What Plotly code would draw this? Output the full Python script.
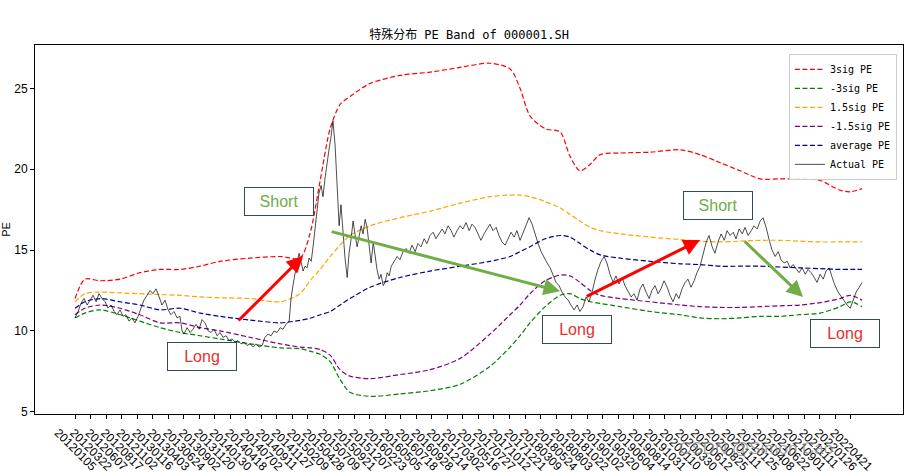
import plotly.graph_objects as go

# ---------------- data ----------------
tick_labels = [
    "20120105", "20120322", "20120607", "20120817", "20121102", "20130116", "20130403",
    "20130624", "20130902", "20131120", "20140130", "20140418", "20140702", "20140911",
    "20141127", "20150209", "20150428", "20150709", "20150921", "20151207", "20160223",
    "20160505", "20160718", "20160928", "20161214", "20170302", "20170516", "20170727",
    "20171012", "20171221", "20180309", "20180524", "20180803", "20181022", "20190102",
    "20190320", "20190604", "20190814", "20191031", "20200110", "20200330", "20200612",
    "20200825", "20201111", "20210125", "20210408", "20210622", "20210901", "20211111",
    "20220126", "20220421",
]
tick_step = 50  # one label every 50 trading days

# trading-day index of each band sample
band_idx = [0, 32, 81, 145, 209, 274, 338, 403, 467, 564, 661, 725, 757, 790, 822, 854,
            886, 951, 1047, 1144, 1241, 1337, 1402, 1434, 1466, 1515, 1563, 1595, 1627,
            1660, 1692, 1756, 1853, 1950, 2014, 2079, 2143, 2208, 2272, 2336, 2401, 2465,
            2498, 2536]
sig3_up = [12.0, 13.2, 13.1, 13.2, 13.6, 13.8, 13.8, 14.0, 14.3, 14.5, 14.6, 14.5, 16.0,
           19.3, 22.5, 24.0, 24.5, 25.3, 25.8, 26.0, 26.3, 26.55, 26.2, 25.0, 23.3, 22.5,
           22.3, 20.8, 19.9, 20.3, 20.9, 21.0, 21.05, 21.2, 20.9, 20.4, 19.9, 19.4, 19.4,
           19.4, 19.3, 18.7, 18.6, 18.8]
sig3_dn = [10.8, 11.1, 11.3, 11.0, 10.6, 10.2, 9.9, 9.7, 9.5, 9.2, 8.95, 8.9, 8.75, 8.55,
           8.1, 7.0, 6.2, 5.95, 6.1, 6.3, 6.7, 7.8, 9.0, 9.7, 10.5, 11.5, 12.2, 12.3, 12.0,
           11.8, 11.7, 11.5, 11.2, 11.0, 10.8, 10.75, 10.8, 10.9, 10.9, 11.0, 11.1, 11.5,
           11.8, 11.5]
sig15_up = [11.8, 12.3, 12.4, 12.35, 12.3, 12.25, 12.2, 12.1, 12.05, 12.0, 11.8, 12.3,
            13.1, 13.8, 14.6, 15.3, 15.9, 16.5, 17.0, 17.4, 17.9, 18.3, 18.4, 18.4, 18.3,
            18.0, 17.6, 17.2, 16.8, 16.4, 16.2, 16.0, 15.8, 15.65, 15.55, 15.5, 15.55,
            15.6, 15.6, 15.55, 15.5, 15.5, 15.5, 15.5]
sig15_dn = [11.0, 11.4, 11.6, 11.4, 11.0, 10.5, 10.5, 10.2, 10.0, 9.6, 9.2, 9.0, 8.95,
            8.85, 8.5, 7.6, 7.2, 7.05, 7.3, 7.6, 8.3, 9.8, 11.0, 11.6, 12.3, 13.1, 13.45,
            13.4, 13.0, 12.5, 12.2, 12.0, 11.8, 11.6, 11.5, 11.45, 11.45, 11.5, 11.55,
            11.6, 11.75, 12.0, 12.2, 11.9]
avg_pe = [11.4, 11.8, 12.0, 11.8, 11.6, 11.3, 11.4, 11.1, 10.9, 10.67, 10.5, 10.65, 10.78,
          11.0, 11.2, 11.6, 12.0, 12.7, 13.3, 13.7, 14.0, 14.3, 14.6, 14.9, 15.2, 15.7,
          15.9, 15.8, 15.4, 15.0, 14.7, 14.5, 14.3, 14.15, 14.1, 14.0, 14.0, 14.0, 13.95,
          13.9, 13.85, 13.8, 13.8, 13.8]

pe_idx = [
    0, 10, 19, 29, 39, 48, 58, 68, 77, 87,
    97, 106, 116, 126, 135, 145, 155, 164, 174, 184,
    193, 203, 213, 222, 232, 242, 251, 261, 271, 280,
    290, 300, 309, 319, 329, 338, 345, 351, 361, 371,
    380, 390, 400, 409, 419, 429, 438, 448, 458, 467,
    477, 487, 496, 506, 516, 525, 535, 545, 554, 564,
    574, 583, 593, 603, 612, 622, 632, 641, 651, 661,
    670, 680, 690, 696, 703, 709, 715, 722, 728, 735,
    741, 748, 754, 761, 767, 773, 780, 786, 793, 799,
    806, 812, 819, 825, 831, 838, 844, 851, 857, 864,
    870, 877, 883, 889, 896, 902, 909, 915, 922, 928,
    935, 941, 948, 954, 961, 967, 973, 980, 986, 993,
    999, 1006, 1012, 1019, 1028, 1038, 1047, 1057, 1067, 1076,
    1086, 1096, 1105, 1115, 1125, 1134, 1144, 1154, 1163, 1173,
    1183, 1192, 1202, 1212, 1221, 1231, 1241, 1250, 1260, 1270,
    1279, 1289, 1299, 1308, 1318, 1328, 1337, 1347, 1357, 1366,
    1376, 1386, 1395, 1405, 1415, 1424, 1434, 1444, 1453, 1463,
    1473, 1482, 1492, 1502, 1512, 1521, 1531, 1541, 1550, 1560,
    1569, 1579, 1589, 1598, 1608, 1618, 1627, 1637, 1647, 1656,
    1666, 1676, 1685, 1695, 1705, 1714, 1724, 1734, 1743, 1753,
    1763, 1772, 1782, 1792, 1801, 1811, 1821, 1830, 1840, 1850,
    1859, 1869, 1879, 1888, 1898, 1908, 1917, 1927, 1937, 1946,
    1956, 1966, 1975, 1985, 1995, 2004, 2014, 2024, 2034, 2043,
    2053, 2062, 2072, 2082, 2092, 2101, 2111, 2121, 2130, 2140,
    2150, 2159, 2169, 2179, 2188, 2198, 2208, 2217, 2227, 2237,
    2246, 2256, 2266, 2275, 2285, 2295, 2304, 2314, 2324, 2333,
    2343, 2353, 2362, 2372, 2382, 2391, 2401, 2411, 2420, 2430,
    2440, 2449, 2459, 2469, 2478, 2488, 2498, 2507, 2517, 2527,
    2536,
]
pe_val = [
    10.8, 11.2, 11.7, 12.0, 11.6, 11.9, 12.2, 11.8, 12.3, 12.0,
    11.8, 11.4, 11.6, 11.2, 11.0, 11.3, 10.9, 11.0, 10.6, 10.8,
    10.5, 10.9, 11.4, 11.9, 12.2, 12.5, 12.3, 12.6, 12.1, 11.6,
    11.9, 11.3, 11.0, 11.2, 10.8, 10.9, 10.0, 9.8, 10.2, 9.9,
    10.1, 10.4, 10.1, 10.7, 10.5, 10.0, 9.9, 10.1, 9.7, 9.9,
    9.6, 9.7, 9.4, 9.5, 9.3, 9.4, 9.2, 9.3, 9.1, 9.2,
    9.0, 9.2, 9.0, 9.1, 9.6, 9.8, 9.7, 10.0, 9.9, 10.2,
    10.1, 10.4, 10.6, 12.0, 12.9, 13.6, 14.2, 14.8, 14.3, 13.7,
    14.0, 13.9, 14.5, 14.3, 15.2, 16.2, 17.5, 18.5, 19.0, 18.3,
    19.5, 20.5, 21.3, 22.0, 23.0, 21.5, 19.0, 16.5, 17.8, 16.0,
    14.5, 13.3, 14.8, 15.6, 16.8, 16.0, 15.2, 15.8, 16.5, 16.0,
    16.9, 16.4, 15.0, 14.2, 15.5, 14.5, 13.8, 13.2, 13.5, 12.8,
    13.0, 13.6, 13.4, 14.0, 14.3, 14.6, 14.4, 14.9, 15.1, 14.8,
    15.3, 14.9, 15.4, 15.2, 15.7, 15.4, 15.9, 16.1, 15.7, 16.0,
    16.3, 16.0, 16.5, 16.2, 15.8, 16.2, 16.5, 16.3, 16.7, 16.2,
    16.6, 16.4, 16.0, 15.6, 16.0, 16.3, 16.6, 16.2, 16.4, 15.9,
    15.5, 15.3, 15.7, 16.1, 15.8, 16.2, 15.6, 16.1, 16.5, 17.0,
    16.6, 16.0, 15.4, 14.9, 14.5, 14.2, 13.9, 13.4, 13.0, 12.8,
    12.4, 12.1, 11.9, 11.6, 11.3, 11.6, 11.2, 11.5, 12.1, 11.8,
    12.4, 13.2, 13.8, 14.3, 14.6, 14.2, 13.5, 13.0, 13.4, 12.9,
    13.3, 12.8, 12.4, 12.1, 12.3, 11.9, 12.6, 12.9, 12.4, 12.0,
    12.5, 12.8, 12.3, 12.6, 13.1, 12.7, 12.2, 11.8, 12.3, 12.0,
    12.6, 13.0, 13.2, 12.7, 13.1, 13.6, 14.0, 14.8, 15.5, 15.9,
    15.2, 14.8, 15.5, 16.0, 15.6, 16.2, 15.9, 16.1, 15.7, 16.3,
    16.0, 16.4, 15.9, 16.2, 16.5, 16.3, 16.8, 17.0, 16.4, 15.6,
    15.0, 14.6, 14.9, 14.4, 14.2, 14.3, 13.9, 14.1, 13.8, 13.6,
    13.9, 13.5, 13.8, 13.6, 13.3, 13.0, 13.5, 13.2, 13.7, 13.9,
    13.3, 12.8, 12.4, 12.1, 11.9, 11.6, 11.4, 11.9, 12.4, 12.7,
    13.0,
]

# annotation boxes: (text, colour, index, PE)
label_boxes = [
    ("Short", "#70AD47", 657, 18.02),
    ("Long", "#E8302A", 409, 8.44),
    ("Long", "#E8302A", 1618, 10.11),
    ("Short", "#70AD47", 2072, 17.75),
    ("Long", "#E8302A", 2481, 9.84),
]
# arrows: (colour, tail index, tail PE, head index, head PE)
arrows = [
    ("#FF0000", 522, 10.55, 735, 14.63),
    ("#70AD47", 822, 16.16, 1563, 12.45),
    ("#FF0000", 1644, 12.09, 2014, 15.62),
    ("#70AD47", 2153, 15.62, 2346, 12.09),
]

# ---------------- figure ----------------
fig = go.Figure()
dash = "5px,2.5px"
bands = [
    ("3sig PE", sig3_up, "#FF0000"),
    ("-3sig PE", sig3_dn, "#008000"),
    ("1.5sig PE", sig15_up, "#FFA500"),
    ("-1.5sig PE", sig15_dn, "#800080"),
    ("average PE", avg_pe, "#00008B"),
]
for name, vals, col in bands:
    fig.add_trace(go.Scatter(
        x=band_idx, y=vals, name=name, mode="lines",
        line=dict(color=col, width=1.2, dash=dash, shape="spline", smoothing=0.8),
    ))
fig.add_trace(go.Scatter(
    x=pe_idx, y=pe_val, name="Actual PE", mode="lines",
    line=dict(color="black", width=0.7),
))

for text, col, xi, yv in label_boxes:
    fig.add_annotation(
        x=xi, y=yv, xref="x", yref="y", text=text, showarrow=False,
        font=dict(family="Liberation Sans", size=16, color=col),
        bgcolor="white", bordercolor="#33495A", borderwidth=1,
        width=66, height=25,
    )
for col, tx, ty, hx, hy in arrows:
    fig.add_annotation(
        x=hx, y=hy, ax=tx, ay=ty, xref="x", yref="y", axref="x", ayref="y",
        text="", showarrow=True, arrowhead=2, arrowsize=1.1, arrowwidth=3,
        arrowcolor=col,
    )

fig.add_annotation(
    x=0.9217, y=-0.125, xref="paper", yref="paper", text="CSDN @Simon Cao",
    showarrow=False, font=dict(family="Liberation Sans", size=17,
                                color="rgba(140,140,140,0.75)"),
)

n_ticks = len(tick_labels)
fig.update_layout(
    width=912, height=474,
    margin=dict(l=35, r=9, t=45, b=60),
    paper_bgcolor="white", plot_bgcolor="white",
    title=dict(text="特殊分布 PE Band of 000001.SH", x=0.5, xref="paper",
               y=1 - 35 / 474, yref="container", yanchor="middle",
               font=dict(family="DejaVu Sans Mono, Noto Sans CJK SC", size=12,
                         color="black")),
    legend=dict(x=0.993, y=0.976, xanchor="right", yanchor="top",
                bgcolor="rgba(255,255,255,0.85)", bordercolor="#CCCCCC",
                borderwidth=1, itemwidth=30,
                font=dict(family="DejaVu Sans Mono", size=10, color="black")),
    showlegend=True,
)
fig.update_xaxes(
    range=[-129, 2668], tickmode="array",
    tickvals=[i * tick_step for i in range(n_ticks)], ticktext=tick_labels,
    tickangle=45, ticks="outside", ticklen=4, tickcolor="black",
    ticklabelshift=-17, ticklabelstandoff=2, automargin=False,
    showline=True, linecolor="black", linewidth=1, mirror=True,
    showgrid=False, zeroline=False,
    tickfont=dict(family="Liberation Sans", size=12, color="black"),
)
fig.update_yaxes(
    range=[4.86, 27.68], tickvals=[5, 10, 15, 20, 25],
    ticks="outside", ticklen=4, tickcolor="black",
    showline=True, linecolor="black", linewidth=1, mirror=True,
    showgrid=False, zeroline=False,
    tickfont=dict(family="Liberation Sans", size=12, color="black"),
    title=dict(text="PE", standoff=6,
               font=dict(family="Liberation Sans", size=11, color="black")),
    automargin=False,
)

fig.write_html("out.html")
